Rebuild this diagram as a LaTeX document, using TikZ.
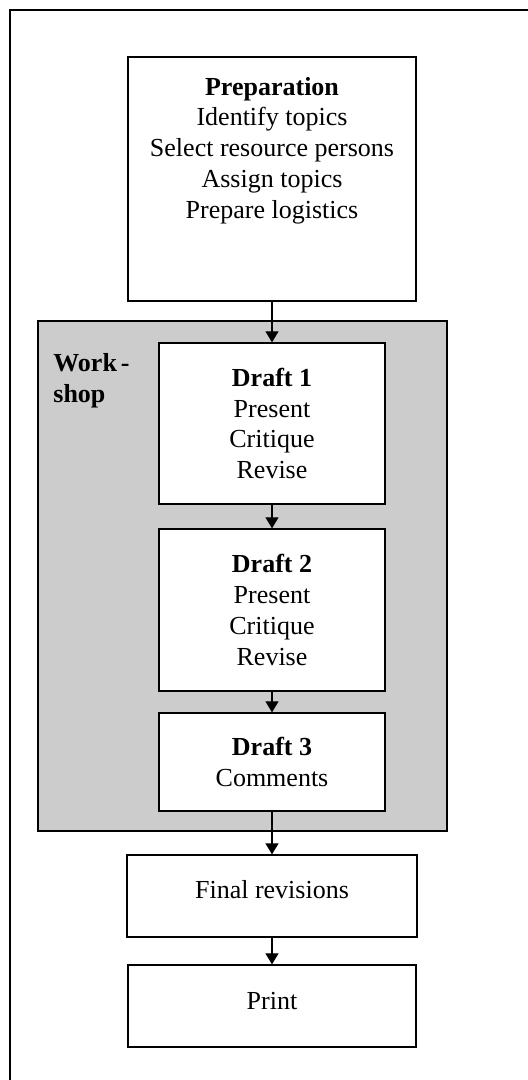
\documentclass[tikz,border=0pt]{standalone}
\usepackage{fontspec}
\setmainfont{Liberation Serif}
\usetikzlibrary{arrows.meta}
\definecolor{panelgray}{HTML}{CCCCCC}
\begin{document}
\begin{tikzpicture}[x=0.5pt,y=-0.5pt,
  body/.style={font=\fontsize{13}{15.4}\selectfont},
  box/.style={draw, line width=0.65pt, fill=white, inner sep=0pt, align=center, body},
  txt/.style={inner sep=0pt, align=center, body},
  flow/.style={-{Triangle[width=6.5pt,length=5.5pt]}, line width=0.6pt}]
\useasboundingbox (0,0) rectangle (528,1080);
\clip (0,0) rectangle (528,1080);
% page frame (open to the right and bottom)
\draw[line width=0.65pt] (10,1090) -- (10,10) -- (540,10);

% workshop panel
\node[draw, line width=0.65pt, fill=panelgray, inner sep=0pt,
      minimum width=204.5pt, minimum height=255pt] (workshop) at (242.5,576) {};
\node[inner sep=0pt, anchor=west, align=left,
      font=\fontsize{13}{15.6}\selectfont\bfseries] (wslabel) at (53,381) {Work\kern2pt-\\shop};

% preparation
\node[box, minimum width=144pt, minimum height=122pt] (prep) at (272,179) {};
\node[txt] (preptext) at (272,150.5) {\textbf{Preparation}\\Identify topics\\Select resource persons\\Assign topics\\Prepare logistics};

% drafts
\node[box, minimum width=113pt, minimum height=80.5pt] (d1) at (272,423.5) {\textbf{Draft 1}\\Present\\Critique\\Revise};
\node[box, minimum width=113pt, minimum height=81pt] (d2) at (272,610) {\textbf{Draft 2}\\Present\\Critique\\Revise};
\node[box, minimum width=113pt, minimum height=49pt] (d3) at (272,762) {\textbf{Draft 3}\\Comments};

% final steps
\node[box, minimum width=145pt, minimum height=41pt] (final) at (272,896) {};
\node[txt] (finaltext) at (272,890) {Final revisions};
\node[box, minimum width=144pt, minimum height=41pt] (print) at (272,1006) {};
\node[txt] (printtext) at (272,1001) {Print};

% connectors
\draw[flow] (prep) -- (d1);
\draw[flow] (d1) -- (d2);
\draw[flow] (d2) -- (d3);
\draw[flow] (d3) -- (final);
\draw[flow] (final) -- (print);
\end{tikzpicture}
\end{document}
